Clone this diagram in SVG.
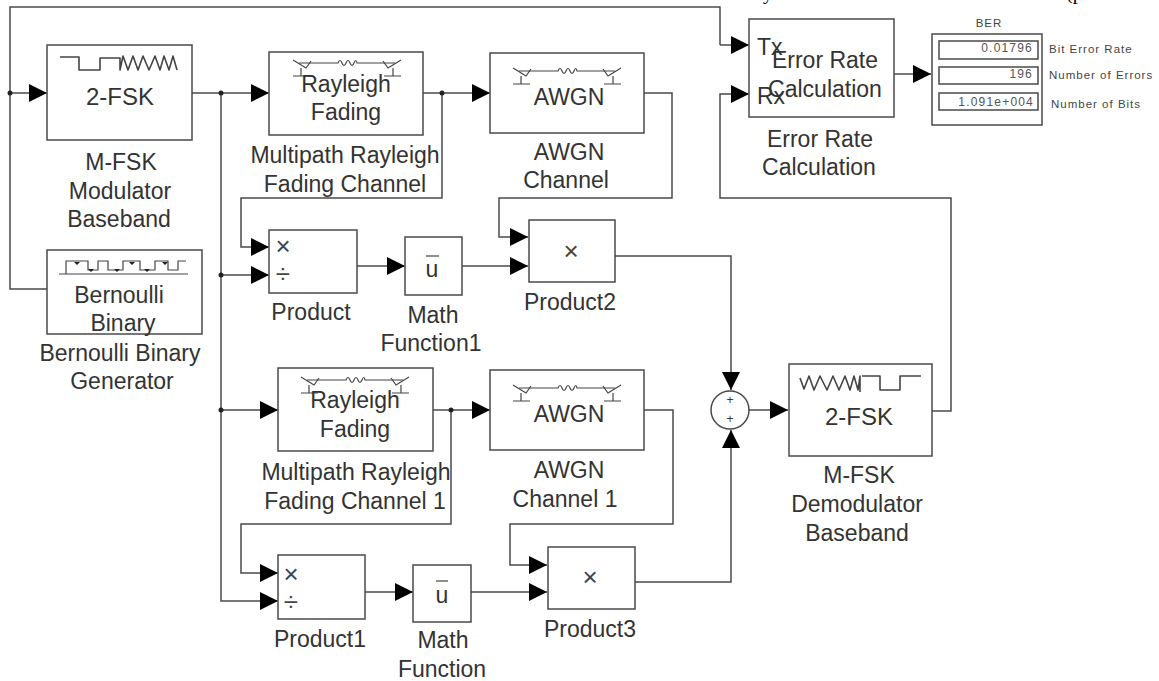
<svg xmlns="http://www.w3.org/2000/svg" width="1159" height="681" viewBox="0 0 1159 681">
<style>
text{font-family:"Liberation Sans",Arial,sans-serif;font-size:23px;fill:#333;text-anchor:middle}
.box{fill:#fff;stroke:#4a4a4a;stroke-width:1.5}
.icon{fill:none;stroke:#444;stroke-width:1.2}
.wave{fill:none;stroke:#444;stroke-width:1.6;stroke-linejoin:round}
.conn{fill:none;stroke:#4a4a4a;stroke-width:1.5}
.arr{marker-end:url(#arrow)}
.dot{fill:#222}
.op{font-size:26px;fill:#444}
.sm{font-size:11.5px;letter-spacing:1px;text-anchor:start;fill:#444}
.val{font-size:12px;letter-spacing:1.2px;text-anchor:end;fill:#555}
.st{text-anchor:start}
.top{font-family:"Liberation Serif",serif;font-size:20px;fill:#000;text-anchor:start}
.plus{font-size:12px;fill:#333}
</style>
<defs>
<marker id="arrow" markerUnits="userSpaceOnUse" markerWidth="19" markerHeight="18" refX="18" refY="9" orient="auto">
<path d="M0 0L18 9L0 18Z" fill="#000"/>
</marker>
<g id="chan" class="icon">
<path d="M-48 0H-9q2 -5 4 0t4 0t4 0t4 0t3 0H48"/>
<path d="M-54 -3L-41 5L-36 -2M-54 13H-37M-46 5V13"/>
<path d="M54 -3L41 5L36 -2M54 13H37M46 5V13"/>
</g>
</defs>
<rect width="1159" height="681" fill="#fff"/>
<text class="top" x="763" y="-1">y</text>
<text class="top" x="1066" y="-1">(p</text>

<g id="connectors" class="conn">
<path d="M720 45V7H10V289H47"/>
<path class="arr" d="M720 45H749"/>
<path class="arr" d="M10 93H47"/>
<path class="arr" d="M192 93H269"/>
<path class="arr" d="M423 93H490"/>
<path class="arr" d="M644 93H672V198H499V237H528"/>
<path class="arr" d="M442 93V198H241V247H269"/>
<path class="arr" d="M221 93V275H269"/>
<path class="arr" d="M221 275V410H278"/>
<path class="arr" d="M221 410V601H278"/>
<path class="arr" d="M357 266H405"/>
<path class="arr" d="M462 266H528"/>
<path class="arr" d="M615 256H731V390"/>
<path class="arr" d="M433 410H490"/>
<path class="arr" d="M451 410V524H241V573H278"/>
<path class="arr" d="M365 592H413"/>
<path class="arr" d="M471 592H547"/>
<path class="arr" d="M644 410H673V524H510V565H547"/>
<path class="arr" d="M635 582H731V430"/>
<path class="arr" d="M749 410H788"/>
<path class="arr" d="M932 411H951V198H720V94H749"/>
<path class="arr" d="M894 74H931"/>
<circle class="dot" cx="10" cy="93" r="2.5" stroke="none"/>
<circle class="dot" cx="221" cy="93" r="2.5" stroke="none"/>
<circle class="dot" cx="442" cy="93" r="2.5" stroke="none"/>
<circle class="dot" cx="221" cy="275" r="2.5" stroke="none"/>
<circle class="dot" cx="221" cy="410" r="2.5" stroke="none"/>
<circle class="dot" cx="451" cy="410" r="2.5" stroke="none"/>
</g>

<g id="fsk-mod">
<rect class="box" x="47" y="45" width="145" height="95"/>
<path class="wave" d="M60 57H79V70H100V58H120V70L123 56L128 70L133 56L138 70L143 56L149 70L155 56L160 70L164 56L169 70L173 56L177 70"/>
<text style="font-size:24px" x="120" y="105">2-FSK</text>
<text x="121" y="170">M-FSK</text><text x="120" y="199">Modulator</text><text x="119" y="227">Baseband</text>
</g>

<g id="bernoulli">
<rect class="box" x="47" y="250" width="155" height="84"/>
<path class="icon" d="M59 274H188M66 274V261H88V270H98V261H108V270H123V261H140V270H155V261H168V270H178V261H186"/>
<path d="M74 262H80L77 265ZM88 269H94L91 272ZM114 269H120L117 272ZM129 262H135L132 265ZM144 269H150L147 272ZM162 262H168L165 265Z" fill="#222"/>
<text x="119" y="303">Bernoulli</text><text x="123" y="331">Binary</text>
<text x="120" y="361">Bernoulli Binary</text><text x="122" y="389">Generator</text>
</g>

<g id="rayleigh">
<rect class="box" x="269" y="52" width="154" height="83"/>
<use href="#chan" x="347" y="63"/>
<text x="346" y="92">Rayleigh</text><text x="346" y="120">Fading</text>
<text x="345" y="163">Multipath Rayleigh</text><text x="345" y="192">Fading Channel</text>
</g>

<g id="awgn">
<rect class="box" x="490" y="53" width="154" height="80"/>
<use href="#chan" x="567" y="71"/>
<text x="569" y="105">AWGN</text>
<text x="569" y="160">AWGN</text><text x="566" y="188">Channel</text>
</g>

<g id="product">
<rect class="box" x="269" y="230" width="88" height="63"/>
<text class="op" x="283" y="255">×</text><text class="op" x="283" y="283">÷</text>
<text x="311" y="320">Product</text>
</g>

<g id="math1">
<rect class="box" x="405" y="237" width="57" height="58"/>
<path class="icon" d="M426 256H439"/>
<text x="432" y="277">u</text>
<text x="433" y="323">Math</text><text x="431" y="351">Function1</text>
</g>

<g id="product2">
<rect class="box" x="529" y="220" width="86" height="62"/>
<text class="op" x="571" y="260">×</text>
<text x="570" y="310">Product2</text>
</g>

<g id="rayleigh1">
<rect class="box" x="278" y="368" width="155" height="83"/>
<use href="#chan" x="355" y="380"/>
<text x="355" y="408">Rayleigh</text><text x="355" y="437">Fading</text>
<text x="356" y="480">Multipath Rayleigh</text><text x="355" y="509">Fading Channel 1</text>
</g>

<g id="awgn1">
<rect class="box" x="490" y="370" width="154" height="80"/>
<use href="#chan" x="567" y="388"/>
<text x="569" y="422">AWGN</text>
<text x="569" y="478">AWGN</text><text x="565" y="507">Channel 1</text>
</g>

<g id="product1">
<rect class="box" x="278" y="555" width="87" height="64"/>
<text class="op" x="291" y="583">×</text><text class="op" x="291" y="611">÷</text>
<text x="320" y="647">Product1</text>
</g>

<g id="math">
<rect class="box" x="413" y="565" width="58" height="57"/>
<path class="icon" d="M436 581H448"/>
<text x="442" y="603">u</text>
<text x="443" y="648">Math</text><text x="442" y="677">Function</text>
</g>

<g id="product3">
<rect class="box" x="548" y="547" width="87" height="62"/>
<text class="op" x="590" y="586">×</text>
<text x="590" y="637">Product3</text>
</g>

<g id="sum">
<circle class="box" cx="730" cy="410" r="19"/>
<text class="plus" x="730" y="404">+</text><text class="plus" x="730" y="423">+</text>
</g>

<g id="fsk-demod">
<rect class="box" x="789" y="364" width="143" height="92"/>
<path class="wave" d="M800 378L804 389L809 376L814 390L820 376L827 390L833 376L839 390L845 376L850 390L854 376L858 390L860 376V392M862 376H880V390H900V376H921"/>
<text style="font-size:24px" x="859" y="425">2-FSK</text>
<text x="859" y="483">M-FSK</text><text x="857" y="512">Demodulator</text><text x="857" y="541">Baseband</text>
</g>

<g id="error-rate">
<rect class="box" x="749" y="19" width="145" height="98"/>
<text class="st" x="757" y="55">Tx</text><text class="st" x="757" y="104">Rx</text>
<text x="825" y="68">Error Rate</text><text x="825" y="97">Calculation</text>
<text x="820" y="147">Error Rate</text><text x="819" y="175">Calculation</text>
</g>

<g id="ber">
<rect class="box" x="932" y="34" width="110" height="91"/>
<rect class="box" x="939" y="41" width="99" height="18"/>
<rect class="box" x="939" y="67" width="99" height="17"/>
<rect class="box" x="939" y="93" width="99" height="17"/>
<text style="font-size:11.5px;letter-spacing:1px;fill:#444" x="989" y="27">BER</text>
<text class="val" x="1033" y="52">0.01796</text><text class="val" x="1033" y="78">196</text><text class="val" x="1034" y="106">1.091e+004</text>
<text class="sm" x="1049" y="53">Bit Error Rate</text><text class="sm" x="1049" y="79">Number of Errors</text><text class="sm" x="1051" y="108">Number of Bits</text>
</g>
</svg>
